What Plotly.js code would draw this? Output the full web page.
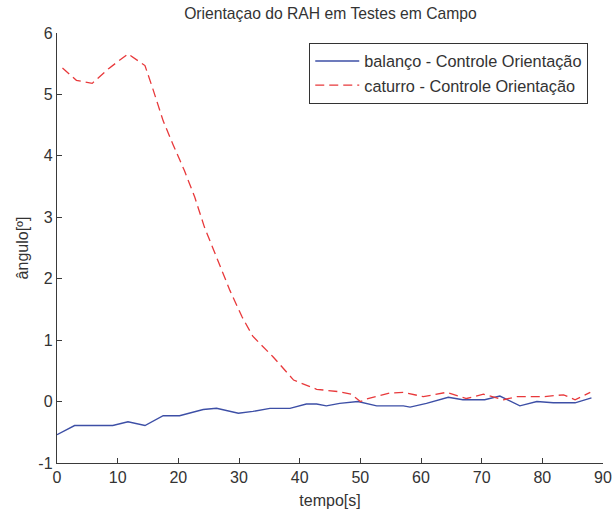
<!DOCTYPE html>
<html>
<head>
<meta charset="utf-8">
<script src="https://cdn.plot.ly/plotly-3.0.1.min.js"></script>
<style>html,body{margin:0;padding:0;background:#fff;}#chart{width:612px;height:510px;}</style>
</head>
<body>
<div id="chart"></div>
<script>
const balancoT = [0, 2.9, 9.2, 11.7, 14.5, 17.5, 20.2, 24.1, 26.3, 29.9, 32.3, 35.1, 38.4, 41.1, 42.8, 44.4, 46.6, 49.6, 52.7, 57.1, 58.2, 60.9, 64.5, 66.9, 70.5, 73, 76.3, 79.1, 81.8, 85.4, 88.1];
const balancoV = [-0.54, -0.39, -0.39, -0.33, -0.39, -0.23, -0.23, -0.13, -0.11, -0.19, -0.16, -0.11, -0.11, -0.04, -0.04, -0.07, -0.03, 0, -0.07, -0.07, -0.09, -0.03, 0.07, 0.03, 0.03, 0.09, -0.07, 0, -0.02, -0.02, 0.06];
const caturroT = [0.9, 3.2, 5.8, 8.5, 11.7, 14.5, 15.8, 17.5, 19.1, 21.0, 22.7, 24.3, 26.3, 28.5, 30.5, 32.3, 35.6, 39, 42.8, 46.6, 48.5, 50, 51, 54.9, 57.1, 60.4, 64.2, 67.5, 70.3, 73.6, 75.8, 80.2, 83.5, 85.4, 87.9];
const caturroV = [5.43, 5.23, 5.18, 5.42, 5.66, 5.47, 5.09, 4.57, 4.19, 3.76, 3.33, 2.84, 2.35, 1.81, 1.38, 1.06, 0.73, 0.35, 0.2, 0.16, 0.12, 0.0, 0.04, 0.14, 0.15, 0.08, 0.15, 0.05, 0.12, 0.03, 0.08, 0.08, 0.11, 0.03, 0.15];
const xTicks = [0, 10, 20, 30, 40, 50, 60, 70, 80, 90];
const yTicks = [-1, 0, 1, 2, 3, 4, 5, 6];
const names = ['balanço - Controle Orientação', 'caturro - Controle Orientação'];
const titleText = 'Orientaçao do RAH em Testes em Campo';
const xTitle = 'tempo[s]';
const yTitle = 'ângulo[º]';

const fontFam = '"Liberation Sans", Arial, sans-serif';
const axisCol = '#3a3a3a';

const data = [
  {x: balancoT, y: balancoV, name: names[0], mode: 'lines', type: 'scatter',
   line: {color: '#3d4fa6', width: 1.4}},
  {x: caturroT, y: caturroV, name: names[1], mode: 'lines', type: 'scatter',
   line: {color: '#e8393b', width: 1.3, dash: '9px,5px'}}
];

const axisCommon = {
  showgrid: false, zeroline: false, showline: true, linecolor: axisCol, linewidth: 1.2,
  ticks: 'inside', ticklen: 5, tickcolor: axisCol, tickwidth: 1,
  tickfont: {family: fontFam, size: 16, color: '#333'}, mirror: false
};

const layout = {
  width: 612, height: 510,
  margin: {l: 57, r: 9, t: 33, b: 47},
  paper_bgcolor: '#fff', plot_bgcolor: '#fff',
  font: {family: fontFam, color: '#333'},
  showlegend: true,
  title: {text: titleText, font: {family: fontFam, size: 15.7, color: '#333'},
          x: 0.54, xanchor: 'center', y: 1 - 14/510, yanchor: 'middle', yref: 'container'},
  xaxis: Object.assign({}, axisCommon, {range: [0, 90], tickvals: xTicks, ticktext: xTicks.map(String),
          title: {text: xTitle, font: {family: fontFam, size: 16, color: '#333'}, standoff: 9}}),
  yaxis: Object.assign({}, axisCommon, {range: [-1, 6], tickvals: yTicks, ticktext: yTicks.map(String),
          title: {text: yTitle, font: {family: fontFam, size: 16, color: '#333'}, standoff: 5}}),
  legend: {x: 0.462, y: 0.977, xanchor: 'left', yanchor: 'top',
           bgcolor: '#fff', bordercolor: '#333', borderwidth: 1, itemwidth: 44,
           font: {family: fontFam, size: 16.3, color: '#333'}, tracegroupgap: 0}
};

Plotly.newPlot('chart', data, layout, {staticPlot: true, displayModeBar: false});
</script>
</body>
</html>
